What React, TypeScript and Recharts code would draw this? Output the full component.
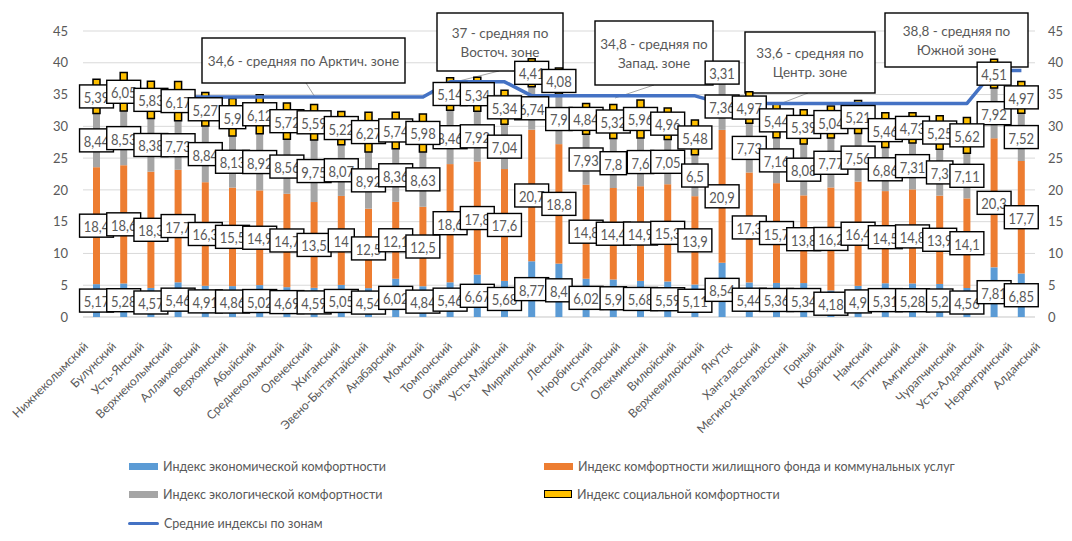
import React from 'react';
import { ComposedChart, Bar, Line, XAxis, YAxis, CartesianGrid, LabelList, Legend } from 'recharts';

const districts = [
  'Нижнеколымский', 'Булунский', 'Усть-Янский', 'Верхнеколымский', 'Аллаиховский', 'Верхоянский',
  'Абыйский', 'Среднеколымский', 'Оленекский', 'Жиганский', 'Эвено-Бытантайский', 'Анабарский',
  'Момский', 'Томпонский', 'Оймяконский', 'Усть-Майский', 'Мирнинский', 'Ленский', 'Нюрбинский',
  'Сунтарский', 'Олекминский', 'Вилюйский', 'Верхневилюйский', 'Якутск', 'Хангаласский',
  'Мегино-Кангаласский', 'Горный', 'Кобяйский', 'Намский', 'Таттинский', 'Амгинский',
  'Чурапчинский', 'Усть-Алданский', 'Нерюнгринский', 'Алданский',
];

const economic = [
  5.17, 5.28, 4.57, 5.46, 4.91, 4.86, 5.02, 4.69, 4.59, 5.05, 4.54, 6.02, 4.84, 5.46, 6.67, 5.68,
  8.77, 8.4, 6.02, 5.9, 5.68, 5.59, 5.11, 8.54, 5.44, 5.36, 5.34, 4.18, 4.9, 5.31, 5.28, 5.2, 4.56,
  7.81, 6.85,
];

const housing = [
  18.4, 18.6, 18.3, 17.7, 16.3, 15.5, 14.9, 14.7, 13.5, 14, 12.5, 12.1, 12.5, 18.6, 17.8, 17.6,
  20.7, 18.8, 14.8, 14.4, 14.9, 15.3, 13.9, 20.9, 17.3, 15.7, 13.8, 16.2, 16.4, 14.5, 14.8, 13.9,
  14.1, 20.3, 17.7,
];

const ecology = [
  8.44, 8.53, 8.38, 7.73, 8.84, 8.13, 8.92, 8.56, 9.75, 8.07, 8.92, 8.36, 8.63, 8.46, 7.92, 7.04,
  6.74, 7.9, 7.93, 7.8, 7.6, 7.05, 6.5, 7.36, 7.73, 7.16, 8.08, 7.77, 7.56, 6.86, 7.31, 7.3, 7.11,
  7.92, 7.52,
];

const social = [
  5.39, 6.05, 5.83, 6.17, 5.27, 5.9, 6.12, 5.72, 5.59, 5.22, 6.27, 5.74, 5.98, 5.14, 5.34, 5.34,
  4.41, 4.08, 4.84, 5.32, 5.96, 4.96, 5.48, 3.31, 4.97, 5.44, 5.39, 5.04, 5.21, 5.46, 4.73, 5.25,
  5.62, 4.51, 4.97,
];

const zoneAverage = [
  34.6, 34.6, 34.6, 34.6, 34.6, 34.6, 34.6, 34.6, 34.6, 34.6, 34.6, 34.6, 34.6,
  37, 37, 37,
  34.8, 34.8, 34.8, 34.8, 34.8, 34.8, 34.8,
  33.6, 33.6, 33.6, 33.6, 33.6, 33.6, 33.6, 33.6, 33.6, 33.6,
  38.8, 38.8,
];

const yTicks = [0, 5, 10, 15, 20, 25, 30, 35, 40, 45];

const seriesNames = {
  economic: 'Индекс экономической комфортности',
  housing: 'Индекс комфортности жилищного фонда и коммунальных услуг',
  ecology: 'Индекс экологической комфортности',
  social: 'Индекс социальной комфортности',
  zone: 'Средние индексы по зонам',
};

const zoneNotes = [
  { lines: ['34,6 - средняя по Арктич. зоне'], x: 202, y: 38, w: 203, h: 45, lead: [306, 83, 315, 97] },
  { lines: ['37 - средняя по', 'Восточ. зоне'], x: 437, y: 13, w: 126, h: 58, lead: [499, 71, 451, 83] },
  { lines: ['34,8 - средняя по', 'Запад. зоне'], x: 595, y: 21, w: 118, h: 64, lead: [654, 85, 615, 98] },
  { lines: ['33,6 - средняя по', 'Центр. зоне'], x: 745, y: 32, w: 130, h: 61, lead: [808, 93, 777, 105] },
  { lines: ['38,8 - средняя по', 'Южной зоне'], x: 885, y: 13, w: 143, h: 54, lead: null },
];

const data = districts.map((name, i) => ({
  name,
  economic: economic[i],
  housing: housing[i],
  ecology: ecology[i],
  social: social[i],
  zone: zoneAverage[i],
}));

const FONT = 'Lato, "Open Sans", sans-serif';
const GREY_TEXT = '#595959';
const W = 1072;
const H = 541;
const MARGIN = { top: 31, right: 7, bottom: 24, left: 43 };

const fmt = (v: number) => String(v).replace('.', ',');
const textW = (s: string) => {
  let w = 0;
  for (const c of s) w += c === ',' ? 3.4 : 7.5;
  return w;
};

const BoxLabel = (props: any) => {
  const vb = props.viewBox && props.viewBox.width != null ? props.viewBox : props;
  const { x, y, width, height } = vb;
  const value = props.value;
  if (value == null || x == null) return null;
  const cx = x + width / 2;
  const cy = y + height / 2;
  const s = fmt(Number(value));
  const w = Math.max(textW(s) + 8, 26);
  const h = 23;
  return (
    <g>
      <rect x={cx - w / 2} y={cy - h / 2} width={w} height={h} fill="#fff" stroke="#000" strokeWidth={1.4} />
      <text
        transform={`translate(${cx},${cy + 0.5}) scale(1,1.2)`}
        textAnchor="middle"
        dominantBaseline="central"
        fontSize={13}
        fill={GREY_TEXT}
        fontFamily={FONT}
      >
        {s}
      </text>
    </g>
  );
};

const XTick = (props: any) => {
  const { x, y, payload } = props;
  const ax = x + 6;
  const ay = y + 22;
  return (
    <text
      x={ax}
      y={ay}
      transform={`rotate(-45, ${ax}, ${ay})`}
      textAnchor="end"
      fontSize={12}
      fill={GREY_TEXT}
      fontFamily={FONT}
    >
      {payload.value}
    </text>
  );
};

const LegendContent = () => {
  const rowY = [14, 42, 71];
  const item = (left: number, top: number, swatch: React.ReactNode, label: string) => (
    <div key={label} style={{ position: 'absolute', left, top: top - 10, height: 20, display: 'flex', alignItems: 'center', whiteSpace: 'nowrap' }}>
      {swatch}
      <span style={{ marginLeft: 5 }}>{label}</span>
    </div>
  );
  const rect = (color: string, border?: boolean) => (
    <div style={{ width: border ? 26 : 29, height: border ? 6 : 7, background: color, border: border ? '1.5px solid #000' : 'none' }} />
  );
  return (
    <div style={{ position: 'relative', width: W, height: 85, fontFamily: FONT, fontSize: 12.5, color: GREY_TEXT }}>
      {item(129, rowY[0], rect('#5B9BD5'), seriesNames.economic)}
      {item(544, rowY[0], rect('#ED7D31'), seriesNames.housing)}
      {item(129, rowY[1], rect('#A5A5A5'), seriesNames.ecology)}
      {item(544, rowY[1], rect('#FFC000', true), seriesNames.social)}
      {item(128, rowY[2], <div style={{ width: 31, height: 3, borderRadius: 2, background: '#4472C4' }} />, seriesNames.zone)}
    </div>
  );
};

const axisTick = { fontSize: 13, fill: GREY_TEXT, fontFamily: FONT };

export default function App() {
  return (
    <div style={{ position: 'relative', width: W, height: H, margin: -8, background: '#fff', overflow: 'hidden' }}>
      {/* background layer: grid, axes, legend */}
      <div style={{ position: 'absolute', left: 0, top: 0, zIndex: 0 }}>
        <ComposedChart width={W} height={H} data={data} margin={MARGIN}>
          <CartesianGrid vertical={false} stroke="#D9D9D9" />
          <XAxis dataKey="name" interval={0} tickLine={false} axisLine={{ stroke: '#D9D9D9' }} height={200} tick={<XTick />} />
          <YAxis domain={[0, 45]} ticks={yTicks} axisLine={false} tickLine={false} width={40} tickMargin={9} tick={axisTick} />
          <YAxis
            yAxisId="right"
            orientation="right"
            domain={[0, 45]}
            ticks={yTicks}
            axisLine={false}
            tickLine={false}
            width={30}
            tickMargin={7}
            tick={axisTick}
          />
          <Line dataKey="zone" stroke="none" dot={false} activeDot={false} legendType="none" isAnimationActive={false} />
          <Line yAxisId="right" dataKey="zone" stroke="none" dot={false} activeDot={false} legendType="none" isAnimationActive={false} />
          <Legend
            layout="vertical"
            align="center"
            verticalAlign="middle"
            wrapperStyle={{ position: 'absolute', top: 452, left: 0, width: W, height: 85 }}
            content={<LegendContent />}
          />
        </ComposedChart>
      </div>
      {/* zone annotations */}
      <svg width={W} height={H} style={{ position: 'absolute', left: 0, top: 0, zIndex: 1 }}>
        <line x1={7} y1={0} x2={7} y2={H} stroke="#D9D9D9" strokeWidth={1} />
        {zoneNotes.map((n, i) => (
          <g key={i}>
            {n.lead && <line x1={n.lead[0]} y1={n.lead[1]} x2={n.lead[2]} y2={n.lead[3]} stroke="#A6A6A6" strokeWidth={1} />}
            <rect x={n.x} y={n.y} width={n.w} height={n.h} fill="#fff" stroke="#000" strokeWidth={1.4} />
            {n.lines.map((t, j) => {
              const lh = 19;
              const cy = n.y + n.h / 2 + (j - (n.lines.length - 1) / 2) * lh;
              return (
                <text key={j} x={n.x + n.w / 2} y={cy} textAnchor="middle" dominantBaseline="central" fontSize={13.5} fill={GREY_TEXT} fontFamily={FONT}>
                  {t}
                </text>
              );
            })}
          </g>
        ))}
      </svg>
      {/* foreground layer: series and data labels */}
      <div style={{ position: 'absolute', left: 0, top: 0, zIndex: 2 }}>
        <ComposedChart width={W} height={H} data={data} margin={MARGIN}>
          <XAxis dataKey="name" interval={0} tickLine={false} axisLine={false} height={200} tick={false} />
          <YAxis domain={[0, 45]} ticks={yTicks} axisLine={false} tickLine={false} width={40} tick={false} />
          <YAxis yAxisId="right" orientation="right" domain={[0, 45]} ticks={yTicks} axisLine={false} tickLine={false} width={30} tick={false} />
          <Line
            yAxisId="right"
            dataKey="zone"
            name={seriesNames.zone}
            type="linear"
            stroke="#4472C4"
            strokeWidth={3.5}
            strokeLinejoin="round"
            dot={false}
            activeDot={false}
            isAnimationActive={false}
          />
          <Bar dataKey="economic" name={seriesNames.economic} stackId="s" fill="#5B9BD5" barSize={7} isAnimationActive={false}>
            <LabelList dataKey="economic" content={<BoxLabel />} />
          </Bar>
          <Bar dataKey="housing" name={seriesNames.housing} stackId="s" fill="#ED7D31" barSize={7} isAnimationActive={false}>
            <LabelList dataKey="housing" content={<BoxLabel />} />
          </Bar>
          <Bar dataKey="ecology" name={seriesNames.ecology} stackId="s" fill="#A5A5A5" barSize={7} isAnimationActive={false}>
            <LabelList dataKey="ecology" content={<BoxLabel />} />
          </Bar>
          <Bar dataKey="social" name={seriesNames.social} stackId="s" fill="#FFC000" stroke="#000" strokeWidth={1.5} barSize={7} isAnimationActive={false}>
            <LabelList dataKey="social" content={<BoxLabel />} />
          </Bar>
        </ComposedChart>
      </div>
    </div>
  );
}
